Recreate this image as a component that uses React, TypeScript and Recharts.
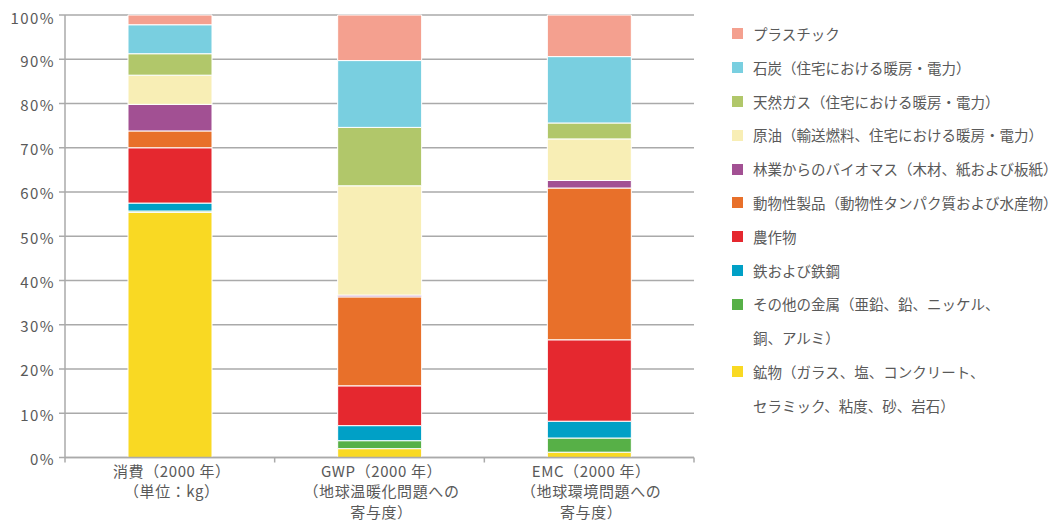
import React from 'react';
import { BarChart, Bar, XAxis, YAxis, CartesianGrid, Legend } from 'recharts';

// categories and their multi-line axis labels
const categories = ['消費', 'GWP', 'EMC'];
const categoryLabels = [
  ['消費（2000 年）', '（単位：kg）'],
  ['GWP（2000 年）', '（地球温暖化問題への', '寄与度）'],
  ['EMC（2000 年）', '（地球環境問題への', '寄与度）'],
];

// shares in %, stacked bottom -> top
const minerals = [55.4, 2.0, 1.2];
const otherMetals = [0.3, 1.8, 3.2];
const iron = [1.8, 3.4, 3.8];
const crops = [12.5, 9.0, 18.4];
const animal = [3.8, 20.1, 34.3];
const biomass = [6.0, 0.4, 1.7];
const oil = [6.6, 24.7, 9.4];
const gas = [4.85, 13.2, 3.6];
const coal = [6.55, 15.1, 15.0];
const plastic = [2.2, 10.3, 9.4];

const seriesKeys = ['minerals', 'otherMetals', 'iron', 'crops', 'animal', 'biomass', 'oil', 'gas', 'coal', 'plastic'];
const seriesValues = [minerals, otherMetals, iron, crops, animal, biomass, oil, gas, coal, plastic];
const seriesNames = [
  ['鉱物（ガラス、塩、コンクリート、', 'セラミック、粘度、砂、岩石）'],
  ['その他の金属（亜鉛、鉛、ニッケル、', '銅、アルミ）'],
  ['鉄および鉄鋼'],
  ['農作物'],
  ['動物性製品（動物性タンパク質および水産物）'],
  ['林業からのバイオマス（木材、紙および板紙）'],
  ['原油（輸送燃料、住宅における暖房・電力）'],
  ['天然ガス（住宅における暖房・電力）'],
  ['石炭（住宅における暖房・電力）'],
  ['プラスチック'],
];
const seriesColors = ['#f9d923', '#57b047', '#00a0c6', '#e5282f', '#e8702a', '#a25093', '#f8eeb5', '#b1c76a', '#79cfe0', '#f4a08f'];

const yTicks = [0, 10, 20, 30, 40, 50, 60, 70, 80, 90, 100];

const data = categories.map((name, i) => {
  const row: Record<string, string | number> = { name };
  seriesKeys.forEach((k, s) => {
    row[k] = seriesValues[s][i];
  });
  return row;
});

const FONT = "'Noto Sans CJK JP', 'Noto Sans', sans-serif";
const TEXT = '#595959';
const GRID = '#aaaaaa';

const CategoryTick = (props: any) => {
  const { x, y, payload, index } = props;
  const half = payload && payload.offset ? payload.offset : 105;
  const lines = categoryLabels[index] || [String(payload.value)];
  return (
    <g>
      {index === 0 && <line x1={x - half} x2={x - half} y1={y} y2={y + 5} stroke={GRID} strokeWidth={1.5} />}
      <line x1={x + half} x2={x + half} y1={y} y2={y + 5} stroke={GRID} strokeWidth={1.5} />
      <text x={x + 2} y={y} textAnchor="middle" fill={TEXT} fontSize={15} letterSpacing={0.6} fontFamily={FONT}>
        {lines.map((l, j) => (
          <tspan key={j} x={x + 2} y={y + 19 + j * 20.5}>
            {l}
          </tspan>
        ))}
      </text>
    </g>
  );
};

const LegendList = () => {
  const rows: { color?: string; text: string }[] = [];
  for (let s = seriesNames.length - 1; s >= 0; s--) {
    seriesNames[s].forEach((t, j) => rows.push({ color: j === 0 ? seriesColors[s] : undefined, text: t }));
  }
  return (
    <div style={{ fontFamily: FONT, fontSize: 14.5, color: TEXT }}>
      {rows.map((r, i) => (
        <div key={i} style={{ height: 33.8, lineHeight: '33.8px', display: 'flex', alignItems: 'center', whiteSpace: 'nowrap' }}>
          <span style={{ display: 'inline-block', width: 11, height: 11, background: r.color || 'transparent', marginRight: 10, flex: 'none' }} />
          <span>{r.text}</span>
        </div>
      ))}
    </div>
  );
};

export default function App() {
  return (
    <div style={{ width: 1045, height: 512 }}>
      <BarChart
        width={1045}
        height={512}
        data={data}
        margin={{ top: 7, right: 359, left: 0, bottom: 2.5 }}
        barSize={84}
      >
        <CartesianGrid vertical={false} stroke={GRID} strokeWidth={1.5} />
        <XAxis
          dataKey="name"
          height={60}
          axisLine={{ stroke: GRID, strokeWidth: 1.5 }}
          tickLine={false}
          tickSize={0}
          tickMargin={0}
          tick={<CategoryTick />}
          interval={0}
        />
        <YAxis
          width={57}
          domain={[0, 100]}
          ticks={yTicks}
          tickFormatter={(v: number) => `${v}%`}
          axisLine={{ stroke: GRID, strokeWidth: 1.5 }}
          tickLine={{ stroke: GRID, strokeWidth: 1.5 }}
          tickSize={6}
          tickMargin={4}
          tick={{ fill: TEXT, fontSize: 15, fontFamily: FONT, dy: 2, letterSpacing: 1.4 }}
        />
        <Legend
          layout="vertical"
          align="center"
          verticalAlign="middle"
          wrapperStyle={{ left: 724, top: 9, width: 325 }}
          content={() => <LegendList />}
        />
        {seriesKeys.map((k, s) => (
          <Bar
            key={k}
            dataKey={k}
            stackId="a"
            fill={seriesColors[s]}
            stroke="#ffffff"
            strokeWidth={1}
            isAnimationActive={false}
          />
        ))}
      </BarChart>
    </div>
  );
}
